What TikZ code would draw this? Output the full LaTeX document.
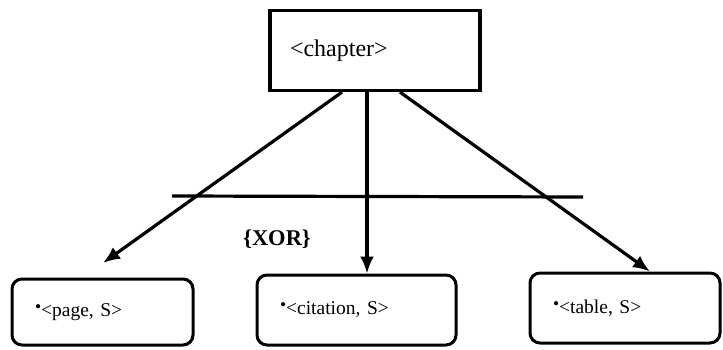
\documentclass[tikz,border=0pt]{standalone}
\usepackage{fontspec}
\setmainfont{Liberation Serif}
\usetikzlibrary{arrows.meta,positioning}

\begin{document}
\begin{tikzpicture}[
  x=1pt,y=-1pt,
  >={Latex[length=17pt,width=14pt]},
  root/.style={draw,line width=3.2pt,minimum height=80pt,text width=170pt,
    inner xsep=20pt,align=left,font=\fontsize{24}{28}\selectfont},
  leaf/.style={draw,line width=3pt,rounded corners=10pt,inner xsep=23pt,
    align=left,font=\fontsize{19.5}{23}\selectfont},
  link/.style={->,line width=3.2pt},
  bar/.style={line width=3.2pt}
]
  \useasboundingbox (0,0) rectangle (723,350);

  \node[root] (chapter) at (375,50.5) {<chapter>};

  \node[leaf,minimum height=66pt,text width=135pt] (page) at (102.5,312)
    {\raisebox{0.45ex}{\scalebox{0.9}{\textbullet}}<page, S>};
  \node[leaf,minimum height=70pt,text width=153pt] (citation) at (356.5,310)
    {\raisebox{0.45ex}{\scalebox{0.9}{\textbullet}}<citation, S>};
  \node[leaf,minimum height=70pt,text width=144pt] (table) at (625,308)
    {\raisebox{0.45ex}{\scalebox{0.9}{\textbullet}}<table, S>};

  \node[font=\bfseries\fontsize{22.5}{26}\selectfont] (xor) at (277,239) {\{XOR\}};

  % the bar across the three branches
  \coordinate (barl) at (172,196);
  \coordinate (barr) at (583,197);
  \draw[bar] (barl) -- (barr);

  \coordinate (pagetip) at (103,263);
  \draw[link] ([xshift=-33pt]chapter.south) -- (pagetip);
  \draw[link] ([xshift=-8pt]chapter.south) -- ([xshift=-8pt]chapter.south |- citation.north);
  \draw[link] ([xshift=25pt]chapter.south) -- ([xshift=25pt]table.north);
\end{tikzpicture}
\end{document}
